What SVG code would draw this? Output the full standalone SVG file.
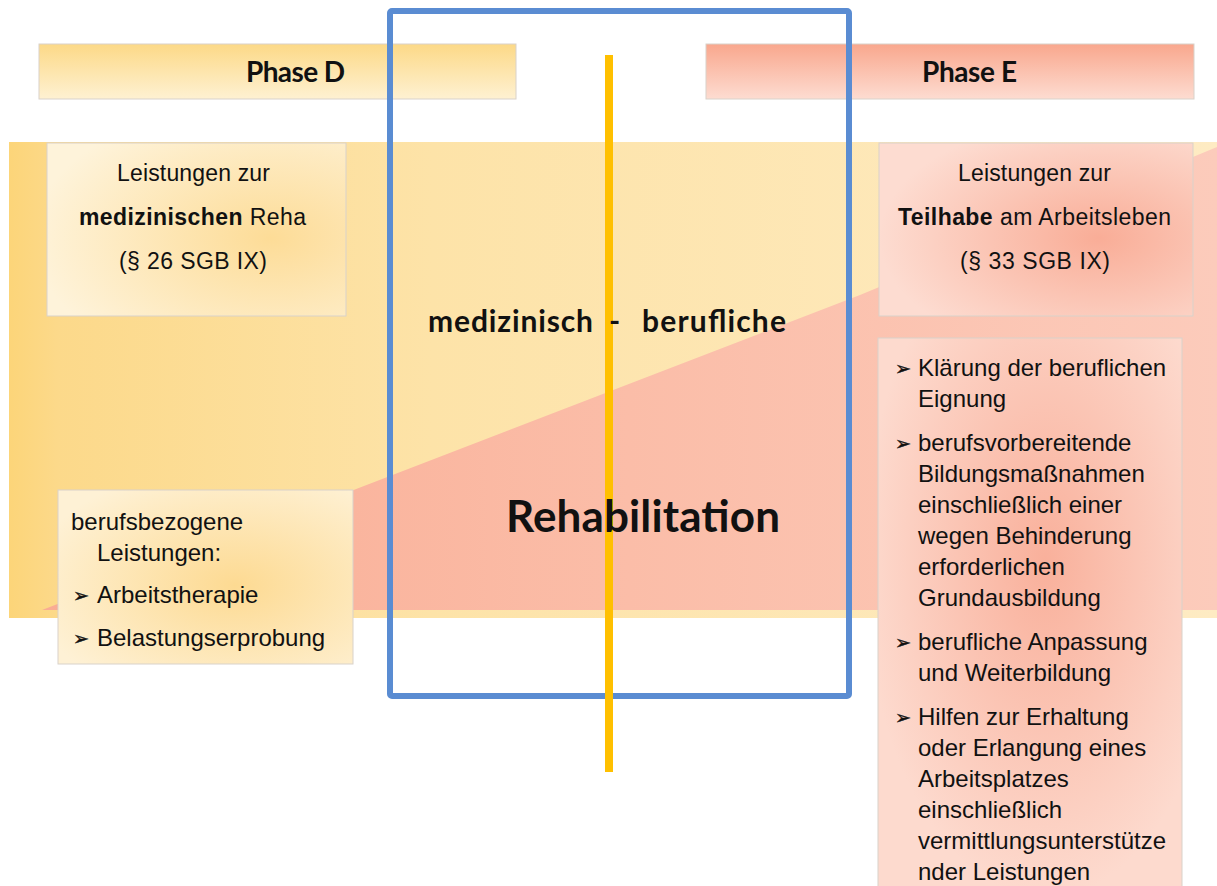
<svg xmlns="http://www.w3.org/2000/svg" width="1217" height="886" viewBox="0 0 1217 886">
<defs>
<linearGradient id="bandY" x1="0" y1="0" x2="1" y2="0">
<stop offset="0" stop-color="#FCD579"/>
<stop offset="0.04" stop-color="#FCD98A"/>
<stop offset="0.35" stop-color="#FDE3A8"/>
<stop offset="1" stop-color="#FEEBC3"/>
</linearGradient>
<linearGradient id="bandS" x1="0" y1="0" x2="1" y2="0">
<stop offset="0" stop-color="#F9AC93"/>
<stop offset="0.5" stop-color="#FBBDA8"/>
<stop offset="1" stop-color="#FCCBBB"/>
</linearGradient>
<linearGradient id="phD" x1="0" y1="0" x2="0" y2="1">
<stop offset="0" stop-color="#FCD987"/>
<stop offset="1" stop-color="#FEF1D2"/>
</linearGradient>
<linearGradient id="phE" x1="0" y1="0" x2="0" y2="1">
<stop offset="0" stop-color="#F9A78D"/>
<stop offset="1" stop-color="#FDDCD1"/>
</linearGradient>
<radialGradient id="boxY" cx="0.75" cy="0.55" r="0.8">
<stop offset="0" stop-color="#FDDC97"/>
<stop offset="1" stop-color="#FEF3DA"/>
</radialGradient>
<radialGradient id="boxY2" cx="0.6" cy="0.55" r="0.7">
<stop offset="0" stop-color="#FDDA92"/>
<stop offset="1" stop-color="#FEF1D5"/>
</radialGradient>
<radialGradient id="boxS" cx="0.7" cy="0.55" r="0.7">
<stop offset="0" stop-color="#F9AD97"/>
<stop offset="1" stop-color="#FDDCD1"/>
</radialGradient>
<radialGradient id="boxS2" cx="0.55" cy="0.4" r="0.6">
<stop offset="0" stop-color="#F9B09B"/>
<stop offset="1" stop-color="#FDDACE"/>
</radialGradient>
</defs>
<style>
.box{stroke:#D9D2CA;stroke-width:1}
.hd{font-family:Lato,"Liberation Sans",sans-serif;font-weight:bold;fill:#111}
.tx{font-family:"Liberation Sans",Arial,sans-serif;fill:#111}
.bl{font-family:"DejaVu Sans",sans-serif;font-size:19px;fill:#111;stroke:#111;stroke-width:0.4}
.b{font-weight:bold}
</style>
<rect width="1217" height="886" fill="#FFFFFF"/>
<g id="band">
<rect x="9" y="142" width="1208" height="476" fill="url(#bandY)"/>
<polygon points="42,610 860,295 1217,147 1217,610" fill="url(#bandS)"/>
</g>
<g id="phase-d">
<rect class="box" x="39" y="44" width="477" height="55" fill="url(#phD)"/>
<text class="hd" x="246" y="82" font-size="28" textLength="99">Phase D</text>
</g>
<g id="phase-e">
<rect class="box" x="706" y="44" width="488" height="55" fill="url(#phE)"/>
<text class="hd" x="922" y="82" font-size="28" textLength="95">Phase E</text>
</g>
<g id="med-reha">
<rect class="box" x="47" y="143" width="299" height="173" fill="url(#boxY)"/>
<text class="tx" x="117" y="181" font-size="23" textLength="153">Leistungen zur</text>
<text class="tx" x="79" y="225" font-size="23" textLength="227"><tspan class="b">medizinischen</tspan> Reha</text>
<text class="tx" x="119" y="269" font-size="23" textLength="148">(§ 26 SGB IX)</text>
</g>
<g id="teilhabe">
<rect class="box" x="879" y="143" width="314" height="173" fill="url(#boxS)"/>
<text class="tx" x="958" y="181" font-size="23" textLength="153">Leistungen zur</text>
<text class="tx" x="898" y="225" font-size="23" textLength="273"><tspan class="b">Teilhabe</tspan> am Arbeitsleben</text>
<text class="tx" x="960" y="269" font-size="23" textLength="150">(§ 33 SGB IX)</text>
</g>
<g id="berufsbezogen">
<rect class="box" x="58" y="490" width="295" height="174" fill="url(#boxY2)"/>
<text class="tx" x="71" y="530" font-size="24">berufsbezogene</text>
<text class="tx" x="97" y="561" font-size="24">Leistungen:</text>
<text class="bl" x="73" y="602">➢</text>
<text class="tx" x="97" y="603" font-size="24">Arbeitstherapie</text>
<text class="bl" x="73" y="645">➢</text>
<text class="tx" x="97" y="646" font-size="24">Belastungserprobung</text>
</g>
<g id="massnahmen">
<rect class="box" x="878" y="338" width="304" height="560" fill="url(#boxS2)"/>
<g class="tx" font-size="24">
<text class="bl" x="895" y="375">➢</text>
<text x="918" y="376">Klärung der beruflichen</text>
<text x="918" y="407">Eignung</text>
<text class="bl" x="895" y="450">➢</text>
<text x="918" y="451">berufsvorbereitende</text>
<text x="918" y="482">Bildungsmaßnahmen</text>
<text x="918" y="513">einschließlich einer</text>
<text x="918" y="544">wegen Behinderung</text>
<text x="918" y="575">erforderlichen</text>
<text x="918" y="606">Grundausbildung</text>
<text class="bl" x="895" y="649">➢</text>
<text x="918" y="650">berufliche Anpassung</text>
<text x="918" y="681">und Weiterbildung</text>
<text class="bl" x="895" y="724">➢</text>
<text x="918" y="725">Hilfen zur Erhaltung</text>
<text x="918" y="756">oder Erlangung eines</text>
<text x="918" y="787">Arbeitsplatzes</text>
<text x="918" y="818">einschließlich</text>
<text x="918" y="849">vermittlungsunterstütze</text>
<text x="918" y="880">nder Leistungen</text>
</g>
</g>
<g id="connectors">
<rect id="frame" x="390" y="11" width="459" height="685" fill="none" stroke="#5A8CD2" stroke-width="6" rx="2"/>
<line id="divider" x1="609" y1="55" x2="609" y2="772" stroke="#FFC000" stroke-width="8"/>
</g>
<g id="center-label">
<text class="hd" x="428" y="332" font-size="30" textLength="165">medizinisch</text>
<text class="hd" x="609" y="332" font-size="30">-</text>
<text class="hd" x="642" y="332" font-size="30" textLength="144">berufliche</text>
<text class="hd" x="506" y="532" font-size="44" textLength="274">Rehabilitation</text>
</g>
</svg>
